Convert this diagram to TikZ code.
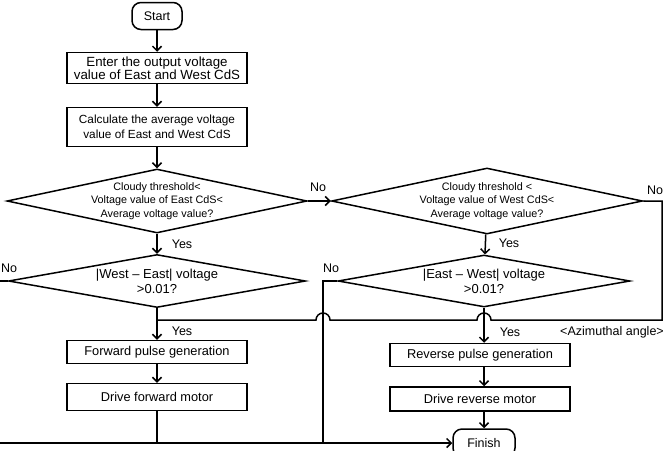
\documentclass[tikz,border=0pt]{standalone}
\usepackage{fontspec}
\setmainfont{Liberation Sans}
\usetikzlibrary{shapes.geometric,arrows.meta,calc}

\tikzset{
    process/.style={draw, line width=1.5pt, minimum width=180pt, align=center, inner sep=1pt, font=\fontsize{12.8}{14}\selectfont},
    terminal/.style={draw, line width=1.5pt, rounded corners=9pt, align=center, font=\fontsize{12.5}{14}\selectfont},
    decision/.style={diamond, draw, line width=1.5pt, inner sep=0pt},
    dtext/.style={align=center, inner sep=0pt, font=\fontsize{10.8}{13.5}\selectfont},
    lbl/.style={inner sep=1pt, font=\fontsize{12.5}{14}\selectfont},
    link/.style={line width=1.5pt},
    arr/.style={link, -{Straight Barb[length=4.5pt,width=9pt]}}
}

\begin{document}
\begin{tikzpicture}[x=1pt,y=-1pt]
    \useasboundingbox (0,0) rectangle (668,450);

    % left column
    \node[terminal, minimum width=50pt, minimum height=27pt] (start) at (157,16) {Start};
    \node[process, minimum height=31pt, font=\fontsize{13.3}{13.5}\selectfont] (enter) at (157,68) {Enter the output voltage\\value of East and West CdS};
    \node[process, minimum height=39pt, font=\fontsize{11.8}{15.5}\selectfont] (calc) at (157,127) {Calculate the average voltage\\value of East and West CdS};
    \node[decision, minimum width=300pt, minimum height=64pt] (east) at (157,201) {};
    \node[dtext] (easttext) at (157,201) {Cloudy threshold<\\Voltage value of East CdS<\\Average voltage value?};
    \node[decision, minimum width=297pt, minimum height=53pt] (westeast) at (157,281) {};
    \node[dtext, font=\fontsize{13}{15}\selectfont] (westeasttext) at (157,281) {|West -- East| voltage\\>0.01?};
    \node[process, minimum height=23pt] (fwdpulse) at (157,352) {Forward pulse generation};
    \node[process, minimum height=27pt] (fwdmotor) at (157,397) {Drive forward motor};

    % right column
    \node[decision, minimum width=311pt, minimum height=66pt] (west) at (487,201) {};
    \node[dtext] (westtext) at (487,201) {Cloudy threshold <\\Voltage value of West CdS<\\Average voltage value?};
    \node[decision, minimum width=292pt, minimum height=52pt] (eastwest) at (484,281) {};
    \node[dtext, font=\fontsize{13}{15}\selectfont] (eastwesttext) at (484,281) {|East -- West| voltage\\>0.01?};
    \node[process, minimum height=23pt] (revpulse) at (480,355) {Reverse pulse generation};
    \node[process, minimum height=24pt] (revmotor) at (480,399) {Drive reverse motor};
    \node[terminal, minimum width=62pt, minimum height=28pt] (finish) at (484,443) {Finish};

    % bends
    \coordinate (leftbend) at (-1,443);
    \coordinate (nobend) at (323,443);
    \coordinate (azcorner) at (662,320);
    \coordinate (fwdjoin) at (157,320);

    % connectors
    \draw[arr] (start) -- (enter);
    \draw[arr] (enter) -- (calc);
    \draw[arr] (calc) -- (east);
    \draw[arr] (east) -- (westeast);
    \draw[arr] (westeast) -- (fwdpulse);
    \draw[arr] (fwdpulse) -- (fwdmotor);
    \draw[link] (fwdmotor) -- (fwdmotor |- leftbend);
    \draw[arr] (east.east) -- (west.west);
    \draw[arr] (west) -- (eastwest);
    \draw[arr] (eastwest.south) -- (eastwest.south |- revpulse.north);
    \draw[arr] (revpulse.south -| eastwest.south) -- (revmotor.north -| eastwest.south);
    \draw[arr] (revmotor.south -| finish.north) -- (finish);
    \draw[arr] (westeast.west) -| (leftbend) -- (finish.west);
    \draw[link] (eastwest.west) -| (nobend);
    \draw[link] (west.east) -| (azcorner)
        -- ($(eastwest.south |- azcorner)+(7,0)$) arc[start angle=0, end angle=180, radius=7pt]
        -- ($(nobend |- azcorner)+(7,0)$) arc[start angle=0, end angle=180, radius=7pt]
        -- (fwdjoin);

    % labels
    \node[lbl] (yes1) at (182,244) {Yes};
    \node[lbl] (yes2) at (182,331) {Yes};
    \node[lbl] (yes3) at (509,243) {Yes};
    \node[lbl] (yes4) at (510,332) {Yes};
    \node[lbl] (no1) at (318,187) {No};
    \node[lbl] (no2) at (9,268) {No};
    \node[lbl] (no3) at (655,190) {No};
    \node[lbl] (no4) at (331,268) {No};
    \node[lbl] (azimuth) at (612,332) {<Azimuthal angle>};
\end{tikzpicture}
\end{document}
